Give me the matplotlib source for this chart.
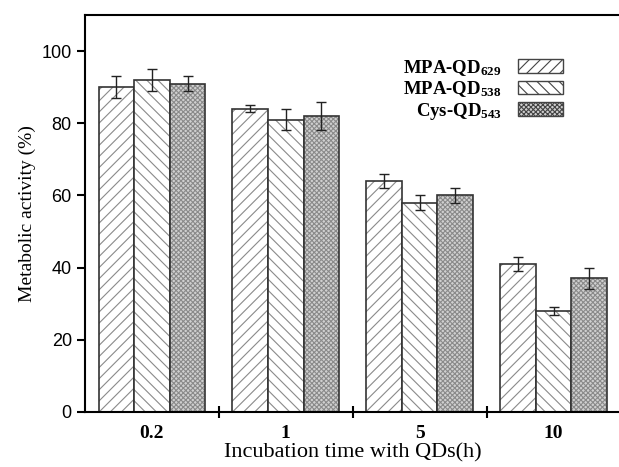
import numpy as np
import matplotlib.pyplot as plt

groups = ["0.2", "1", "5", "10"]
series = ["MPA-QD$\\mathregular{_{629}}$", "MPA-QD$\\mathregular{_{538}}$", "Cys-QD$\\mathregular{_{543}}$"]
mpa629 = [90, 84, 64, 41]
mpa538 = [92, 81, 58, 28]
cys543 = [91, 82, 60, 37]
err629 = [3, 1, 2, 2]
err538 = [3, 3, 2, 1]
err543 = [2, 4, 2, 3]

values = [mpa629, mpa538, cys543]
errors = [err629, err538, err543]
hatches = ["///", "\\\\\\", "xxxxxxx"]
faces = ["white", "white", "#d0d0d0"]

plt.rcParams["hatch.linewidth"] = 0.8

fig = plt.figure(figsize=(6.19, 4.67), dpi=100)
ax = fig.add_axes([85 / 619, 55 / 467, 535.5 / 619, 397 / 467])

x = np.arange(len(groups))
w = 0.266
handles = []
for i in range(3):
    pos = x + (i - 1) * w
    # hatch layer in gray, then dark outline on top
    ax.bar(pos, values[i], w, color=faces[i], hatch=hatches[i],
           edgecolor="#8a8a8a", linewidth=0)
    ax.bar(pos, values[i], w, color="none", edgecolor="#333333", linewidth=1.2)
    ax.errorbar(pos, values[i], yerr=errors[i], fmt="none", ecolor="#222222",
                elinewidth=1, capsize=3.5, capthick=1)
    h = plt.Rectangle((0, 0), 1, 1, facecolor=faces[i], hatch=hatches[i],
                      edgecolor="#444444", linewidth=1)
    handles.append(h)

ax.set_xlim(-0.5, 3.5)
ax.set_ylim(0, 110)
ax.set_yticks([0, 20, 40, 60, 80, 100])
ax.set_yticklabels(["0", "20", "40", "60", "80", "100"],
                   fontfamily="Liberation Sans", fontsize=13)
ax.set_xticks([0.5, 1.5, 2.5])
ax.set_xticklabels([])
ax.set_xticks(x, minor=True)
ax.set_xticklabels(groups, minor=True, fontfamily="Liberation Serif",
                   fontsize=14, fontweight="bold")
ax.tick_params(axis="x", which="major", direction="inout", length=8, width=1.5)
ax.tick_params(axis="x", which="minor", length=0, pad=9)
ax.tick_params(axis="y", direction="out", length=6, width=1.5)

for s in ["left", "bottom", "top"]:
    ax.spines[s].set_linewidth(1.5)
ax.spines["right"].set_visible(False)

ax.set_ylabel("Metabolic activity (%)", fontfamily="Liberation Serif", fontsize=14)
ax.set_xlabel("Incubation time with QDs(h)", fontfamily="Liberation Serif",
              fontsize=16, labelpad=1)

leg = ax.legend(handles, series, loc="upper right", bbox_to_anchor=(0.925, 0.935),
                frameon=False, markerfirst=False, handlelength=2.4, handleheight=0.75,
                labelspacing=0.08, handletextpad=0.9, borderpad=0.4,
                prop={"family": "Liberation Serif", "weight": "bold", "size": 13.5})
for t in leg.get_texts():
    t.set_ha("right")

fig.savefig("out.png", dpi=100)
